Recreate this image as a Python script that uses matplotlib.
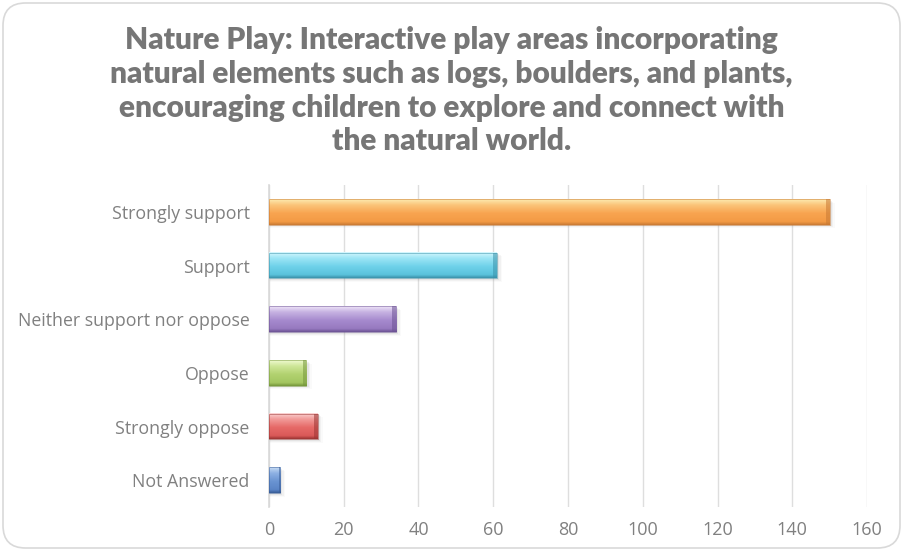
import numpy as np
import matplotlib
matplotlib.use("Agg")
import matplotlib.pyplot as plt
from matplotlib.colors import to_rgb, LinearSegmentedColormap
from matplotlib.patches import FancyBboxPatch, Rectangle

categories = ["Strongly support", "Support", "Neither support nor oppose",
              "Oppose", "Strongly oppose", "Not Answered"]
values = [150, 61, 34, 10, 13, 3]
xticks = [0, 20, 40, 60, 80, 100, 120, 140, 160]
title = ("Nature Play: Interactive play areas incorporating\n"
         "natural elements such as logs, boulders, and plants,\n"
         "encouraging children to explore and connect with\n"
         "the natural world.")

# top-highlight -> body -> lower shade -> bottom edge, per bar
bar_shades = [
    ["#FDEBB0", "#FBC57A", "#F8A450", "#F39A44", "#C97A34"],
    ["#D6F8FE", "#9EE6F6", "#6FD2EA", "#5AC2DC", "#3A92AA"],
    ["#EEE4F8", "#C7B3E2", "#A68ACE", "#9679BF", "#6C5394"],
    ["#F0FAD0", "#CFE79A", "#B2D270", "#A3C660", "#76973C"],
    ["#FBD4D4", "#F29C9A", "#E66A68", "#DA5958", "#9C3533"],
    ["#C8DCF4", "#8FB2E4", "#6A94D2", "#5A84C6", "#385C96"],
]

W, H = 903, 551
fig = plt.figure(figsize=(W / 100, H / 100), dpi=100)

# rounded chart frame
frame = FancyBboxPatch((3 / W, 3 / H), 1 - 6 / W, 1 - 6 / H,
                       boxstyle="round,pad=0,rounding_size=0.025",
                       transform=fig.transFigure, facecolor="none",
                       edgecolor="#D9D9D9", linewidth=1.2, zorder=-1,
                       mutation_aspect=W / H)
fig.patches.append(frame)

fig.text(0.5, 1 - 26 / H, title, ha="center", va="top",
         fontsize=21.5, fontweight="heavy", color="#767676",
         family="Lato", linespacing=1.25)

ax = fig.add_axes([269 / W, 1 - 507 / H, (867 - 269) / W, (507 - 185) / H])
ax.set_facecolor("none")
ax.set_xlim(0, 160)
ax.set_ylim(len(categories) - 0.5, -0.5)
ax.set_xticks(xticks)
ax.set_yticks(range(len(categories)))
ax.set_yticklabels(categories)
ax.tick_params(axis="both", length=0, colors="#808080")
ax.tick_params(axis="x", pad=10, labelsize=13)
ax.tick_params(axis="y", pad=14, labelsize=12.8)
for lbl in ax.get_xticklabels() + ax.get_yticklabels():
    lbl.set_family("Open Sans")
ax.grid(axis="x", color="#DEDEDE", linewidth=1.0, zorder=0)
ax.set_axisbelow(True)
for s in ["top", "right", "bottom"]:
    ax.spines[s].set_visible(False)
ax.spines["left"].set_color("#D9D9D9")
ax.spines["left"].set_linewidth(1.2)

bh = 0.48
for i, (v, shades) in enumerate(zip(values, bar_shades)):
    # soft drop shadow
    for k, a in enumerate([0.10, 0.07, 0.04]):
        ax.add_patch(Rectangle((0, i - bh / 2 + 0.03 + 0.02 * k),
                               v + 0.6 + 0.4 * k, bh,
                               facecolor="#808080", alpha=a,
                               edgecolor="none", zorder=2))
    cmap = LinearSegmentedColormap.from_list(
        "bar%d" % i, list(zip([0.0, 0.22, 0.55, 0.88, 1.0], shades)))
    grad = np.linspace(0, 1, 64).reshape(-1, 1)
    ax.imshow(grad, cmap=cmap, aspect="auto", interpolation="bilinear",
              extent=[0, v, i + bh / 2, i - bh / 2], zorder=3)
    # bevelled ends
    edge = to_rgb(shades[4])
    ax.add_patch(Rectangle((v - min(1.0, v * 0.12), i - bh / 2),
                           min(1.0, v * 0.12), bh, facecolor=edge,
                           alpha=0.55, edgecolor="none", zorder=4))
    ax.add_patch(Rectangle((0, i - bh / 2), v, bh, facecolor="none",
                           edgecolor=edge, linewidth=0.6, alpha=0.6,
                           zorder=4))

ax.set_xlim(0, 160)
ax.set_ylim(len(categories) - 0.5, -0.5)

fig.savefig("out.png", dpi=100)
